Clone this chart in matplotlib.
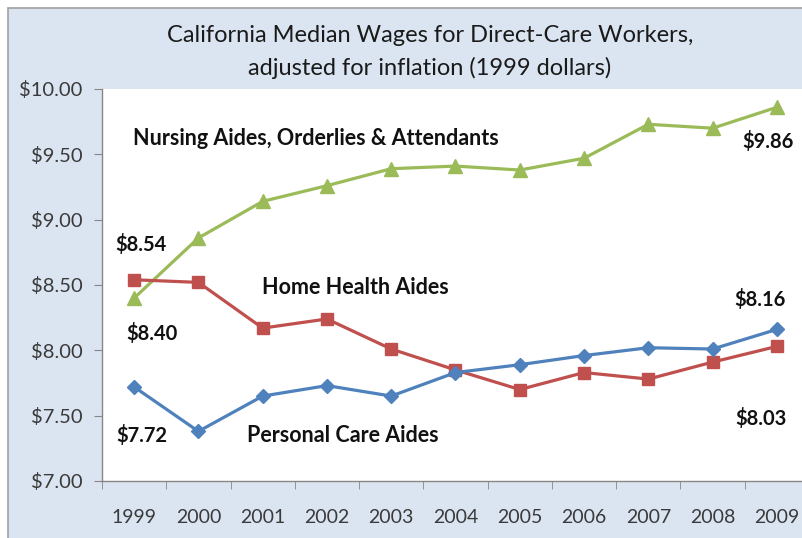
import matplotlib
matplotlib.use("Agg")
from matplotlib import pyplot as plt
from matplotlib.patches import Rectangle
from matplotlib.ticker import FuncFormatter
import numpy as np

plt.rcParams['font.family'] = ['Lato', 'DejaVu Sans']

years = ['1999', '2000', '2001', '2002', '2003', '2004',
         '2005', '2006', '2007', '2008', '2009']
nursing = [8.40, 8.86, 9.14, 9.26, 9.39, 9.41, 9.38, 9.47, 9.73, 9.70, 9.86]
home_health = [8.54, 8.52, 8.17, 8.24, 8.01, 7.85, 7.70, 7.83, 7.78, 7.91, 8.03]
personal_care = [7.72, 7.38, 7.65, 7.73, 7.65, 7.83, 7.89, 7.96, 8.02, 8.01, 8.16]

green = '#9BBB59'
red = '#C0504D'
blue = '#4F81BD'
bg = '#DBE5F1'

W, H = 803, 538
fig = plt.figure(figsize=(W / 100, H / 100), dpi=100, facecolor='white')
# outer chart area (cropped on right and bottom)
fig.patches.append(Rectangle((8 / W, -0.05), 1.1, (H - 8) / H + 0.05,
                             transform=fig.transFigure, facecolor=bg,
                             edgecolor='#A0A0A0', linewidth=1.2, zorder=-10))

ax = fig.add_axes([102 / W, 1 - 481 / H, 707 / W, 392 / H])
ax.set_facecolor('white')
x = np.arange(len(years))

ax.plot(x, nursing, color=green, lw=2.3, marker='^', ms=10, clip_on=False)
ax.plot(x, home_health, color=red, lw=2.3, marker='s', ms=9, clip_on=False)
ax.plot(x, personal_care, color=blue, lw=2.3, marker='D', ms=7.5, clip_on=False)

ax.set_xlim(-0.5, 10.5)
ax.set_ylim(7.0, 10.0)
ax.set_yticks(np.arange(7.0, 10.01, 0.5))
ax.yaxis.set_major_formatter(FuncFormatter(lambda v, p: '${:.2f}'.format(v)))
ax.set_xticks(x)
ax.set_xticklabels(years)
ax.set_xticks(np.arange(-0.5, 10.6, 1), minor=True)
ax.tick_params(axis='x', which='major', length=0, pad=20, labelsize=14, labelcolor='#3a3a3a')
ax.tick_params(axis='x', which='minor', length=6, color='#868686', direction='out')
ax.tick_params(axis='y', length=6, color='#868686', pad=8, labelsize=14.5, labelcolor='#3a3a3a')

for s in ['top', 'right']:
    ax.spines[s].set_visible(False)
for s in ['left', 'bottom']:
    ax.spines[s].set_color('#868686')
    ax.spines[s].set_linewidth(1.0)

fig.text(430 / W, 1 - 35 / H, 'California Median Wages for Direct-Care Workers,',
         ha='center', va='center', fontsize=17, color='#1a1a1a')
fig.text(430 / W, 1 - 68 / H, 'adjusted for inflation (1999 dollars)',
         ha='center', va='center', fontsize=17, color='#1a1a1a')

kw = dict(fontweight='bold', color='#111111', va='center')
words = dict(fontsize=15.5, **kw)
nums = dict(fontsize=14.5, **kw)
ax.text(-0.02, 9.62, 'Nursing Aides, Orderlies & Attendants', ha='left', **words)
ax.text(9.86, 9.60, '$9.86', ha='center', **nums)
ax.text(0.11, 8.81, '$8.54', ha='center', **nums)
ax.text(1.99, 8.48, 'Home Health Aides', ha='left', **words)
ax.text(0.28, 8.13, '$8.40', ha='center', **nums)
ax.text(9.74, 8.39, '$8.16', ha='center', **nums)
ax.text(9.75, 7.48, '$8.03', ha='center', **nums)
ax.text(0.12, 7.35, '$7.72', ha='center', **nums)
ax.text(1.75, 7.35, 'Personal Care Aides', ha='left', **words)

fig.savefig('out.png', dpi=100, facecolor=fig.get_facecolor())
